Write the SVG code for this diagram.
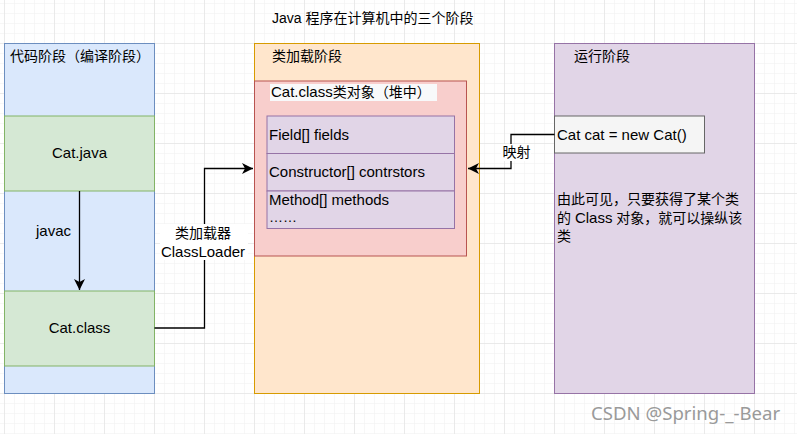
<svg xmlns="http://www.w3.org/2000/svg" width="797" height="434" viewBox="0 0 797 434">
<defs>
<pattern id="minor" x="4" y="3" width="10" height="10" patternUnits="userSpaceOnUse">
<path d="M0,0 H10 M0,0 V10" fill="none" stroke="#f0f0f0" stroke-width="1"/>
</pattern>
<pattern id="major" x="4" y="43" width="50" height="50" patternUnits="userSpaceOnUse">
<path d="M0,0 H50 M0,0 V50" fill="none" stroke="#dddddd" stroke-width="1"/>
</pattern>
<marker id="arr" markerUnits="userSpaceOnUse" markerWidth="12" markerHeight="12" refX="11" refY="6" orient="auto">
<path d="M0,0.5 L11,6 L0,11.5 L3,6 Z" fill="#000"/>
</marker>
</defs>
<style>
text{font-family:"Liberation Sans","Noto Sans CJK SC",Arial,sans-serif;font-size:14px;fill:#000}
.l{font-size:15px}
.c{text-anchor:middle}
.blue{fill:#dae8fc;stroke:#6c8ebf}
.green{fill:#d5e8d4;stroke:#82b366}
.orange{fill:#ffe6cc;stroke:#d79b00}
.red{fill:#f8cecc;stroke:#b85450}
.purple{fill:#e1d5e7;stroke:#9673a6}
.grey{fill:#f5f5f5;stroke:#666666}
.edge{fill:none;stroke:#000;stroke-width:1.3}
</style>
<rect width="797" height="434" fill="#ffffff"/>
<rect width="797" height="434" fill="url(#minor)"/>
<rect width="797" height="434" fill="url(#major)"/>

<g id="title"><text x="272" y="23">Java 程序在计算机中的三个阶段</text></g>

<g id="code-stage">
<rect class="blue" x="4.5" y="43.5" width="150" height="350"/>
<text x="10" y="61">代码阶段（编译阶段）</text>
</g>
<g id="cat-java">
<rect class="green" x="4.5" y="116" width="150" height="75"/>
<text class="c l" x="79.5" y="158">Cat.java</text>
</g>
<g id="cat-class">
<rect class="green" x="4.5" y="291" width="150" height="75"/>
<text class="c l" x="79.5" y="333">Cat.class</text>
</g>

<g id="load-stage">
<rect class="orange" x="254.5" y="43.5" width="225" height="350"/>
<text x="272" y="61">类加载阶段</text>
</g>
<g id="class-object">
<rect class="red" x="254.5" y="81" width="212" height="175"/>
<rect x="270" y="84" width="167" height="17" fill="#f8f9fa"/>
<text x="271" y="97"><tspan class="l">Cat.class</tspan>类对象（堆中）</text>
</g>
<g id="members">
<rect class="purple" x="267" y="116" width="187.5" height="37.5"/>
<text class="l" x="269" y="140">Field[] fields</text>
<rect class="purple" x="267" y="153.5" width="187.5" height="37.5"/>
<text class="l" x="269" y="177">Constructor[] contrstors</text>
<rect class="purple" x="267" y="191" width="187.5" height="37.5"/>
<text class="l" x="269" y="205">Method[] methods</text>
<text x="269" y="222">……</text>
</g>

<g id="run-stage">
<rect class="purple" x="554.5" y="43.5" width="200" height="350"/>
<text x="574" y="61">运行阶段</text>
<text x="557" y="204">由此可见，只要获得了某个类</text>
<text x="557" y="223">的 <tspan class="l">Class</tspan> 对象，就可以操纵该</text>
<text x="557" y="241">类</text>
</g>
<g id="new-cat">
<rect class="grey" x="554.5" y="116" width="150" height="37"/>
<text class="l" x="557" y="140">Cat cat = new Cat()</text>
</g>

<g id="connectors">
<path class="edge" d="M79.5,191 V290" marker-end="url(#arr)"/>
<text class="c l" x="53.5" y="236">javac</text>
<path class="edge" d="M154.5,328 H204.5 V168.5 H253" marker-end="url(#arr)"/>
<rect x="160" y="224" width="88" height="36" fill="#ffffff"/>
<text class="c" x="203" y="238">类加载器</text>
<text class="c l" x="203" y="257">ClassLoader</text>
<path class="edge" d="M554.5,134.5 H511 V168.5 H468" marker-end="url(#arr)"/>
<rect x="501" y="144" width="30" height="17" fill="#ffffff"/>
<text class="c" x="516.5" y="157">映射</text>
</g>

<g id="watermark"><text x="591" y="420" style="font-family:'Noto Sans','Open Sans',sans-serif;font-size:18.6px;fill:#9a9a9a">CSDN @Spring-_-Bear</text></g>
</svg>
